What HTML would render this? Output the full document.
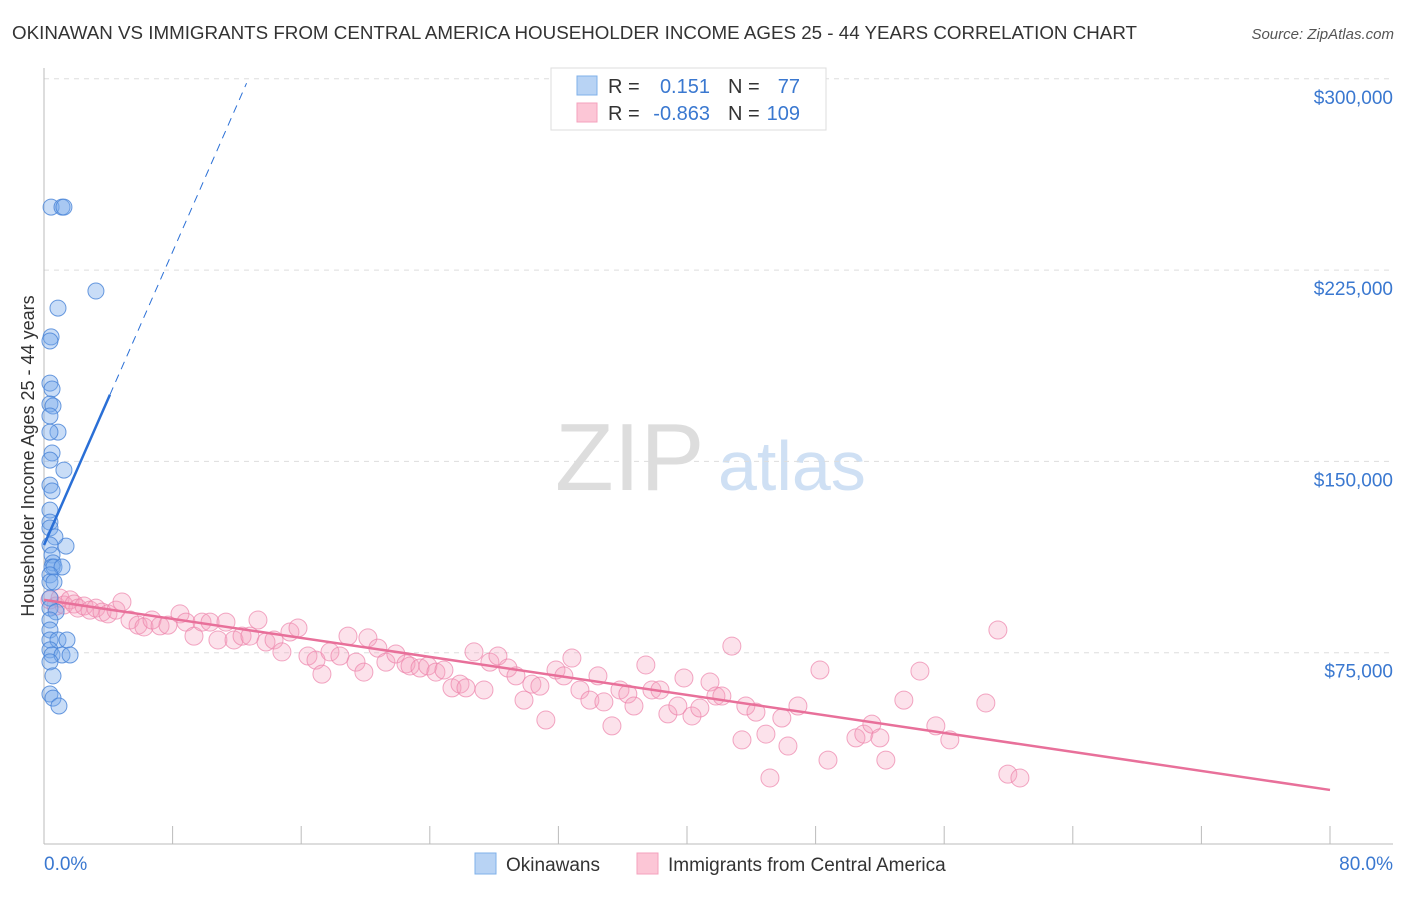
<!DOCTYPE html>
<html><head><meta charset="utf-8"><style>
body{margin:0;background:#fff;font-family:"Liberation Sans",sans-serif}
svg text{font-family:"Liberation Sans",sans-serif}
</style></head><body>
<svg id="chart" width="1406" height="892" xmlns="http://www.w3.org/2000/svg">
<text x="12" y="39" font-size="18" fill="#333" textLength="1125" lengthAdjust="spacingAndGlyphs">OKINAWAN VS IMMIGRANTS FROM CENTRAL AMERICA HOUSEHOLDER INCOME AGES 25 - 44 YEARS CORRELATION CHART</text>
<text x="1394" y="39" font-size="15" fill="#555" text-anchor="end" font-style="italic">Source: ZipAtlas.com</text>
<g>
<text x="555" y="490" font-size="96" fill="#ddd" font-family="Liberation Serif,serif">ZIP</text>
<text x="718" y="490" font-size="70" fill="#cfe0f4">atlas</text>
</g>
<g id="grid"></g>
<g id="axes"></g>
<g id="pts"></g>
<text transform="translate(34,456) rotate(-90)" font-size="18" fill="#333" text-anchor="middle">Householder Income Ages 25 - 44 years</text>
<g>
<rect x="551" y="68" width="275" height="62" fill="#fff" stroke="#ddd"/>
<rect x="577" y="76" width="20" height="19" fill="#b8d3f4" stroke="#7fb0ea"/>
<rect x="577" y="103" width="20" height="19" fill="#fcc6d6" stroke="#f4a2bd"/>
<text x="608" y="93" font-size="20" fill="#333">R =</text>
<text x="710" y="93" font-size="20" fill="#3a78d0" text-anchor="end">0.151</text>
<text x="728" y="93" font-size="20" fill="#333">N =</text>
<text x="800" y="93" font-size="20" fill="#3a78d0" text-anchor="end">77</text>
<text x="608" y="120" font-size="20" fill="#333">R =</text>
<text x="710" y="120" font-size="20" fill="#3a78d0" text-anchor="end">-0.863</text>
<text x="728" y="120" font-size="20" fill="#333">N =</text>
<text x="800" y="120" font-size="20" fill="#3a78d0" text-anchor="end">109</text>
</g>
<g>
<rect x="475" y="853" width="21" height="21" fill="#b8d3f4" stroke="#7fb0ea"/>
<text x="506" y="871" font-size="19" fill="#333">Okinawans</text>
<rect x="637" y="853" width="21" height="21" fill="#fcc6d6" stroke="#f4a2bd"/>
<text x="668" y="871" font-size="19" fill="#333">Immigrants from Central America</text>
</g>
</svg>
<script>
const xTicks=[0,8,16,24,32,40,48,56,64,72,80];
const yTicks=[75000,150000,225000,300000];
const yTickLabels=["$75,000","$150,000","$225,000","$300,000"];
const xEndLabels=["0.0%","80.0%"];
const blueX=[0.44,1.12,1.24,3.23,0.87,0.44,0.37,0.37,0.5,0.37,0.56,0.37,0.87,0.37,0.5,0.37,1.24,0.37,0.5,0.37,0.37,0.37,1.37,0.68,0.37,0.5,0.56,0.5,0.62,1.12,0.37,0.37,0.62,0.37,0.37,0.75,0.37,0.37,0.37,0.87,1.43,0.37,0.5,1.12,1.62,0.37,0.56,0.37,0.56,0.93];
const blueY=[249.7,249.7,249.7,216.8,210.1,198.8,197.2,180.7,178.4,172.5,171.7,167.8,161.5,161.5,153.3,150.5,146.6,140.7,138.4,130.9,126.2,123.9,116.8,120.4,117.2,113.3,110.2,108.6,108.6,108.6,105.5,102.7,102.7,96.4,92.5,91.0,87.8,83.9,80.0,80.0,80.0,76.1,74.1,74.1,74.1,71.4,65.9,58.8,57.2,54.1];
const pinkX=[0.37,0.75,1.0,1.24,1.62,1.87,2.11,2.49,2.86,3.23,3.61,3.98,4.48,4.85,5.35,5.85,6.22,6.72,7.22,7.71,8.46,8.83,9.33,9.83,10.33,10.82,11.32,11.82,12.32,12.81,13.31,13.81,14.31,14.8,15.3,15.8,16.42,16.92,17.29,17.79,18.41,18.91,19.41,19.9,20.15,20.77,21.27,21.89,22.52,22.77,23.39,23.88,24.38,24.88,25.38,25.88,26.25,26.75,27.37,27.74,28.24,28.86,29.36,29.86,30.35,30.85,31.22,31.85,32.34,32.84,33.34,33.96,34.46,34.83,35.33,35.83,36.32,36.7,37.44,37.82,38.32,38.81,39.43,39.81,40.31,40.8,41.43,41.8,42.17,42.79,43.42,43.66,44.29,44.91,45.16,45.9,46.28,46.9,48.27,48.77,50.51,51.0,51.5,52.0,52.37,53.49,54.49,55.48,56.35,58.59,59.34,59.96,60.71];
const pinkY=[95.7,93.3,96.4,93.7,95.7,94.1,92.5,93.3,91.7,92.5,90.9,90.2,91.7,94.9,87.8,85.8,85.1,87.8,85.5,85.8,90.2,87.0,81.5,87.0,87.0,80.0,87.0,80.0,81.5,81.5,87.8,79.2,80.0,75.3,83.1,84.7,73.7,72.1,66.6,75.3,73.7,81.5,71.3,67.4,80.8,76.8,71.3,74.5,70.6,69.8,69.0,69.8,67.4,68.2,61.2,62.7,61.2,75.3,60.4,71.3,73.7,69.0,65.9,56.4,62.7,61.9,48.6,68.2,65.9,72.9,60.4,56.4,65.9,55.7,46.3,60.4,58.8,54.1,70.2,60.4,60.4,51.0,54.1,65.1,50.2,53.3,63.5,58.0,58.0,77.6,40.8,54.1,51.7,43.1,25.9,49.4,38.4,54.1,68.2,32.9,41.6,43.1,47.0,41.6,32.9,56.4,67.8,46.3,40.8,55.3,83.9,27.4,25.9];
const blueFit=[117.2,14.37];
const pinkFit=[95.7,21.2];
const NS="http://www.w3.org/2000/svg";
const X=p=>44+p*(1286/80);
const Y=v=>844-v/75000*191.3;
const Yk=k=>Y(k*1000);
function mk(tag,attrs,parent){const e=document.createElementNS(NS,tag);for(const k in attrs)e.setAttribute(k,attrs[k]);document.getElementById(parent).appendChild(e);return e;}
yTicks.forEach((t,i)=>{
 const l=mk('line',{x1:44,x2:1393,y1:Y(t),y2:Y(t),stroke:'#ddd','stroke-dasharray':'5,5'},'grid');
 
 
 const tx=mk('text',{x:1393,y:Y(t)+25,'font-size':19,fill:'#3a78d0','text-anchor':'end'},'axes');
 tx.textContent=yTickLabels[i];
 
 
});
const ya=mk('line',{x1:44,x2:44,y1:68,y2:844,stroke:'#bbb'},'axes');


const xa=mk('line',{x1:44,x2:1393,y1:844,y2:844,stroke:'#bbb'},'axes');


xTicks.forEach(t=>{
 const l=mk('line',{x1:X(t),x2:X(t),y1:826,y2:844,stroke:'#bbb'},'axes');
 
 
});
[[X(xTicks[0]),'start',xEndLabels[0]],[1393,'end',xEndLabels[1]]].forEach(a=>{
 const tx=mk('text',{x:a[0],y:870,'font-size':19,fill:'#3a78d0','text-anchor':a[1]},'axes');
 tx.textContent=a[2];
 
 
});
pinkX.forEach((x,i)=>{
 const c=mk('circle',{cx:X(x),cy:Yk(pinkY[i]),r:9,fill:'rgba(245,160,190,0.3)',stroke:'rgba(236,130,170,0.7)','stroke-width':1},'pts');
 
 
});
blueX.forEach((x,i)=>{
 const c=mk('circle',{cx:X(x),cy:Yk(blueY[i]),r:8,fill:'rgba(120,170,235,0.4)',stroke:'rgba(70,130,215,0.8)','stroke-width':1},'pts');
 
 
});
const bf=p=>blueFit[0]+blueFit[1]*p;
const bl=mk('line',{x1:X(0),y1:Yk(bf(0)),x2:X(4.1),y2:Yk(bf(4.1)),stroke:'#2a6fd6','stroke-width':2.5},'pts');


const bd=mk('line',{x1:X(4.1),y1:Yk(bf(4.1)),x2:X(12.6),y2:Yk(bf(12.6)),stroke:'#2a6fd6','stroke-width':1,'stroke-dasharray':'8,6'},'pts');


const pl=mk('line',{x1:X(0),y1:Yk(pinkFit[0]),x2:X(80),y2:Yk(pinkFit[1]),stroke:'#e8709a','stroke-width':2.5},'pts');


</script>
</body></html>
